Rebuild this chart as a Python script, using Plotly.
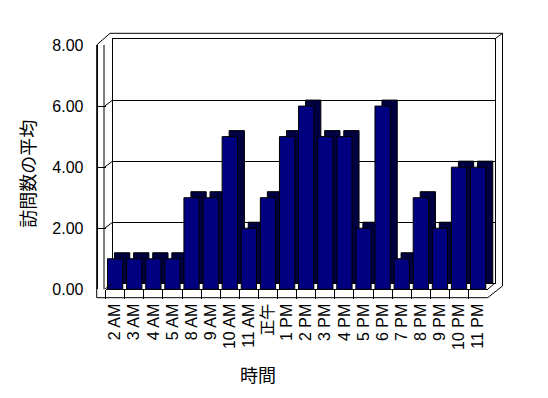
import plotly.graph_objects as go

# ---- data ----
categories = ["2 AM", "3 AM", "4 AM", "5 AM", "8 AM", "9 AM", "10 AM", "11 AM", "正午",
              "1 PM", "2 PM", "3 PM", "4 PM", "5 PM", "6 PM", "7 PM", "8 PM", "9 PM",
              "10 PM", "11 PM"]
visits = [1, 1, 1, 1, 3, 3, 5, 2, 3, 5, 6, 5, 5, 2, 6, 1, 3, 2, 4, 4]
y_ticks = [0, 2, 4, 6, 8]
y_tick_labels = ["0.00", "2.00", "4.00", "6.00", "8.00"]
x_title = "時間"
y_title = "訪問数の平均"

# ---- geometry (page pixels; the page body adds an 8px offset) ----
OFF_X, OFF_Y = 8, 8
W, H = 548 - OFF_X, 398 - OFF_Y
def px(x):
    return (x - OFF_X) / W
def py(y):
    return 1 - (y - OFF_Y) / H

FRONT_X = (105.6, 487.7)
FRONT_Y = (289.3, 45.0)   # bottom (0), top (8)
DX, DY = 7, 6             # depth offset of the back plane
BACK_X = (FRONT_X[0] + DX, FRONT_X[1] + DX)
BACK_Y = (FRONT_Y[0] - DY, FRONT_Y[1] - DY)
AXIS_X = 96.7
FLOOR_BOTTOM = 297.7
OUTER_R = 502.5
OUTER_T = 33.3

FONT = "Liberation Sans, Arial, Noto Sans CJK JP, sans-serif"
NAVY = "#000080"
SHADE = "#000040"

fig = go.Figure()

# depth (top & side faces) drawn on the back plane
fig.add_trace(go.Bar(x=categories, y=visits, xaxis="x", yaxis="y",
                     width=0.8, marker=dict(color=SHADE, line=dict(color="black", width=1)),
                     hoverinfo="skip", showlegend=False))
# front faces
fig.add_trace(go.Bar(x=categories, y=visits, xaxis="x2", yaxis="y2",
                     width=0.8, marker=dict(color=NAVY, line=dict(color="black", width=1)),
                     showlegend=False))

shapes = []
def seg(x0, y0, x1, y1):
    shapes.append(dict(type="line", xref="paper", yref="paper",
                       x0=px(x0), y0=py(y0), x1=px(x1), y1=py(y1),
                       line=dict(color="black", width=1)))

# connectors from the front axis ticks to back-wall gridlines
for v in y_ticks:
    shapes.append(dict(type="line", xref="paper", yref="y2",
                       xsizemode="scaled", ysizemode="pixel", yanchor=v,
                       x0=px(AXIS_X + 8), x1=px(BACK_X[0]), y0=0, y1=DY,
                       line=dict(color="black", width=1)))

# walls / floor frame
seg(AXIS_X, FRONT_Y[1], AXIS_X, FLOOR_BOTTOM)            # left outer edge
seg(AXIS_X + 7.3, FRONT_Y[1], AXIS_X + 7.3, FRONT_Y[0])  # left wall inner edge
seg(AXIS_X, FLOOR_BOTTOM, FRONT_X[1], FLOOR_BOTTOM)      # floor bottom
seg(FRONT_X[1], FLOOR_BOTTOM, OUTER_R, 286)              # floor right diagonal
seg(OUTER_R, 286, OUTER_R, OUTER_T)                      # right outer edge
seg(AXIS_X, FRONT_Y[1], 110, OUTER_T)                    # top-left diagonal
seg(110, OUTER_T, OUTER_R, OUTER_T)                      # top outer edge
seg(BACK_X[1], BACK_Y[1], OUTER_R, OUTER_T)              # top-right bevel
seg(BACK_X[1], BACK_Y[0], FRONT_X[1], FRONT_Y[0])        # bottom-right inner diagonal

annotations = [
    dict(text=x_title, xref="paper", yref="paper", x=px(258), y=py(375.5),
         showarrow=False, font=dict(size=18, color="black", family=FONT),
         xanchor="center", yanchor="middle"),
    dict(text=y_title, xref="paper", yref="paper", x=px(28.7), y=py(174),
         showarrow=False, textangle=-90, font=dict(size=18, color="black", family=FONT),
         xanchor="center", yanchor="middle"),
]

fig.update_layout(
    width=W, height=H,
    margin=dict(l=0, r=0, t=0, b=0, pad=0, autoexpand=False),
    paper_bgcolor="white", plot_bgcolor="rgba(0,0,0,0)",
    font=dict(family=FONT, size=16, color="black"),
    bargap=0.2,
    showlegend=False,
    shapes=shapes,
    annotations=annotations,
    # back plane
    xaxis=dict(domain=[px(BACK_X[0]), px(BACK_X[1])], anchor="y", automargin=False,
               type="category", range=[-0.5, len(categories) - 0.5],
               showticklabels=False, ticks="", showgrid=False, zeroline=False,
               showline=True, mirror=True, linecolor="black", linewidth=1),
    yaxis=dict(domain=[py(BACK_Y[0]), py(BACK_Y[1])], anchor="x", automargin=False,
               range=[0, 8], tickvals=y_ticks, showticklabels=False, ticks="",
               showgrid=True, gridcolor="black", gridwidth=1, zeroline=False,
               showline=True, mirror=True, linecolor="black", linewidth=1),
    # front plane
    xaxis2=dict(domain=[px(FRONT_X[0]), px(FRONT_X[1])], anchor="y2", automargin=False,
                type="category", range=[-0.5, len(categories) - 0.5],
                tickson="boundaries", ticks="outside", ticklen=9, tickcolor="black",
                tickwidth=1, tickangle=-90, tickfont=dict(size=16, family=FONT),
                ticklabelstandoff=7,
                showgrid=False, zeroline=False,
                showline=True, linecolor="black", linewidth=1),
    yaxis2=dict(domain=[py(FRONT_Y[0]), py(FRONT_Y[1])], anchor="free", automargin=False,
                position=px(AXIS_X), side="left",
                range=[0, 8], tickvals=y_ticks, ticktext=y_tick_labels,
                ticks="inside", ticklen=8, tickcolor="black", tickwidth=1,
                ticklabelstandoff=10, tickfont=dict(size=16, family=FONT),
                showgrid=False, zeroline=False,
                showline=True, linecolor="black", linewidth=1),
)

fig.write_html("out.html")
